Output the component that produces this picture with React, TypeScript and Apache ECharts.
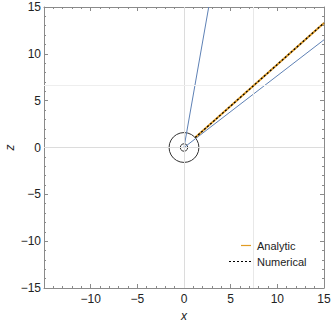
import React, { useEffect, useRef } from "react";
import * as echarts from "echarts";

const xTicks = [-15, -10, -5, 0, 5, 10, 15];
const zTicks = [-15, -10, -5, 0, 5, 10, 15];
const blueSteep: number[][] = [[0, 0], [2.65, 15]];
const blueShallow: number[][] = [[0, 0], [15, 11.5]];
const analytic: number[][] = [[1.2, 1.06], [15, 13.3]];
const numerical: number[][] = [[1.2, 1.06], [15, 13.3]];
const circles: number[][] = [[0, 0, 1.6], [0, 0, 0.4]];
const gridX = [0, 7.4];
const gridZ = [0, 6.6];
const legendNames = ["Analytic", "Numerical"];

const FONT = "'Liberation Sans', Arial, sans-serif";
const BLUE = "#5E81B5";
const ORANGE = "#E19C24";
const FRAME = "#8a8a8a";

const fmt = (v: number) => (v < 0 ? "\u2212" + Math.abs(v) : String(v));

function axisCommon(min: number, max: number) {
  return {
    type: "value" as const,
    min,
    max,
    interval: 5,
    axisLine: { show: true, onZero: false, lineStyle: { color: FRAME, width: 1 } },
    axisTick: { show: true, inside: true, length: 4, lineStyle: { color: FRAME } },
    minorTick: { show: true, splitNumber: 5, length: 2, lineStyle: { color: FRAME } },
    splitLine: { show: false },
    minorSplitLine: { show: false },
  };
}

export default function App() {
  const ref = useRef<HTMLDivElement>(null);
  useEffect(() => {
    if (!ref.current) return;
    const chart = echarts.init(ref.current, undefined, { renderer: "svg" });
    const gridLines = [
      ...gridX.map((v) => ({ xAxis: v, lineStyle: { color: v === 0 ? "#dcdcdc" : "#e8e8e8" } })),
      ...gridZ.map((v) => ({ yAxis: v, lineStyle: { color: v === 0 ? "#dcdcdc" : "#eeeeee" } })),
    ];
    chart.setOption({
      animation: false,
      grid: { left: 44, right: 8, top: 7, bottom: 36, containLabel: false, outerBoundsMode: "none" },
      xAxis: [
        {
          ...axisCommon(xTicks[0], xTicks[xTicks.length - 1]),
          position: "bottom",
          name: "x",
          nameLocation: "middle",
          nameGap: 22,
          nameMoveOverlap: false,
          nameTextStyle: { fontFamily: FONT, fontSize: 12, fontStyle: "italic", color: "#222" },
          axisLabel: {
            fontFamily: FONT,
            fontSize: 12,
            color: "#222",
            margin: 5,
            formatter: (v: number) => (v === xTicks[0] ? "" : fmt(v)),
          },
        },
        {
          ...axisCommon(xTicks[0], xTicks[xTicks.length - 1]),
          position: "top",
          axisLabel: { show: false },
        },
      ],
      yAxis: [
        {
          ...axisCommon(zTicks[0], zTicks[zTicks.length - 1]),
          position: "left",
          name: "z",
          nameLocation: "middle",
          nameGap: 28,
          nameRotate: 90,
          nameMoveOverlap: false,
          nameTextStyle: { fontFamily: FONT, fontSize: 12, fontStyle: "italic", color: "#222" },
          axisLabel: { fontFamily: FONT, fontSize: 12, color: "#222", margin: 3, formatter: fmt },
        },
        {
          ...axisCommon(zTicks[0], zTicks[zTicks.length - 1]),
          position: "right",
          axisLabel: { show: false },
        },
      ],
      series: [
        {
          type: "line",
          data: [],
          silent: true,
          markLine: {
            silent: true,
            symbol: "none",
            label: { show: false },
            lineStyle: { type: "solid", width: 1 },
            data: gridLines,
          },
        },
        {
          type: "custom",
          renderItem: (params: any, api: any) => {
            const c = api.coord([api.value(0), api.value(1)]);
            const r = api.size([api.value(2), 0])[0];
            return {
              type: "circle",
              shape: { cx: c[0], cy: c[1], r },
              style: { fill: "none", stroke: "#333", lineWidth: 1 },
            };
          },
          data: circles,
          clip: true,
          z: 3,
        },
        {
          type: "line",
          data: blueSteep,
          symbol: "none",
          clip: true,
          lineStyle: { color: BLUE, width: 1 },
          z: 4,
        },
        {
          type: "line",
          data: blueShallow,
          symbol: "none",
          clip: true,
          lineStyle: { color: BLUE, width: 1 },
          z: 4,
        },
        {
          name: legendNames[0],
          type: "line",
          data: analytic,
          symbol: "none",
          clip: true,
          lineStyle: { color: ORANGE, width: 2 },
          z: 5,
        },
        {
          name: legendNames[1],
          type: "line",
          data: numerical,
          symbol: "none",
          clip: true,
          lineStyle: { color: "#000", width: 1.3, type: [2, 2] },
          z: 6,
        },
      ],
      graphic: [
        { type: "line", shape: { x1: 241, y1: 245.5, x2: 251, y2: 245.5 }, style: { stroke: ORANGE, lineWidth: 1.2 } },
        { type: "text", x: 257, y: 245.5, style: { text: legendNames[0], fontFamily: FONT, fontSize: 11, fill: "#222", verticalAlign: "middle" } },
        { type: "line", shape: { x1: 229, y1: 261.5, x2: 251, y2: 261.5 }, style: { stroke: "#000", lineWidth: 1, lineDash: [2, 2] } },
        { type: "text", x: 257, y: 261.5, style: { text: legendNames[1], fontFamily: FONT, fontSize: 11, fill: "#222", verticalAlign: "middle" } },
      ],
    });
    return () => chart.dispose();
  }, []);
  return (
    <div
      ref={ref}
      style={{ position: "fixed", left: 0, top: 0, width: 332, height: 324, background: "#fff" }}
    />
  );
}
